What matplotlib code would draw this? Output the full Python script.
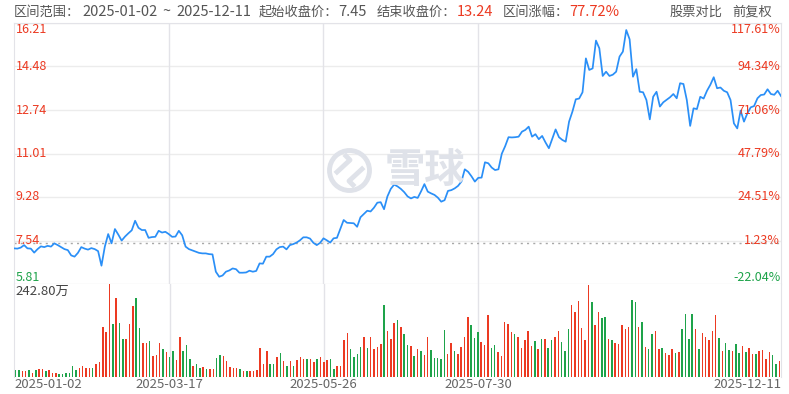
import numpy as np
import matplotlib
matplotlib.use("Agg")
import matplotlib.pyplot as plt
import matplotlib.transforms as mtransforms
from matplotlib.patches import Ellipse

plt.rcParams['font.family'] = ['Noto Sans CJK SC', 'DejaVu Sans']

# ---- data ----
price = [7.23, 7.22, 7.26, 7.36, 7.23, 7.22, 7.06, 7.20, 7.31, 7.28,
         7.33, 7.30, 7.43, 7.36, 7.28, 7.20, 7.16, 6.95, 6.90, 7.05,
         7.28, 7.22, 7.18, 7.24, 7.20, 7.12, 6.54, 7.30, 7.80, 7.43,
         8.00, 7.78, 7.54, 7.70, 7.83, 7.95, 8.33, 8.05, 7.96, 7.96,
         7.65, 7.68, 7.69, 7.93, 7.86, 7.89, 7.80, 7.69, 7.70, 7.93,
         7.75, 7.30, 7.20, 7.15, 7.10, 7.05, 7.03, 7.03, 7.00, 6.99,
         6.30, 6.10, 6.15, 6.30, 6.35, 6.43, 6.40, 6.26, 6.26, 6.27,
         6.34, 6.30, 6.33, 6.63, 6.62, 6.90, 6.90, 7.00, 7.19, 7.28,
         7.30, 7.19, 7.36, 7.40, 7.46, 7.55, 7.67, 7.67, 7.62, 7.45,
         7.36, 7.45, 7.63, 7.55, 7.46, 7.63, 7.65, 8.00, 8.36, 8.25,
         8.24, 8.23, 8.09, 8.47, 8.60, 8.73, 8.70, 8.85, 9.05, 9.07,
         8.79, 9.30, 9.60, 9.77, 9.70, 9.60, 9.47, 9.30, 9.22, 9.28,
         9.24, 9.50, 9.79, 9.49, 9.42, 9.36, 9.25, 9.09, 9.15, 9.52,
         9.55, 9.62, 9.72, 9.89, 10.38, 10.28, 10.10, 9.89, 10.04, 10.05,
         10.66, 10.62, 10.45, 10.35, 10.38, 11.00, 11.30, 11.66, 11.65, 11.66,
         11.68, 11.88, 11.95, 12.08, 11.68, 11.78, 11.58, 11.71, 11.45, 11.22,
         11.60, 11.97, 11.66, 11.55, 11.48, 12.28, 12.68, 13.17, 13.20, 13.45,
         14.80, 14.34, 14.40, 15.51, 15.20, 14.10, 14.27, 14.10, 14.15, 14.27,
         14.87, 15.07, 15.93, 15.56, 14.07, 14.37, 13.47, 13.45, 13.14, 12.37,
         13.27, 13.47, 12.88, 13.05, 13.15, 13.25, 13.38, 13.21, 13.81, 13.78,
         13.14, 12.11, 12.81, 12.78, 13.27, 13.20, 13.51, 13.75, 14.05, 13.61,
         13.64, 13.51, 13.45, 13.14, 12.21, 12.01, 12.72, 12.28, 12.61, 12.85,
         12.90, 13.21, 13.34, 13.36, 13.57, 13.38, 13.35, 13.51, 13.30]

# volume in 万 shares, and bar direction (r = up, g = down)
volume = [19.4, 19.4, 15.0, 15.8, 17.6, 11.4, 17.6, 22.0, 22.0, 15.0,
          17.6, 11.4, 11.4, 8.8, 8.8, 9.7, 11.4, 28.2, 17.6, 24.6,
          28.2, 24.6, 24.6, 24.6, 33.4, 38.7, 130.2, 117.0, 242.8, 138.1,
          206.7, 140.8, 98.5, 98.5, 139.0, 184.7, 206.7, 127.6, 89.7, 88.0,
          94.1, 54.5, 57.2, 88.0, 72.1, 64.2, 52.8, 67.7, 44.0, 103.8,
          68.6, 82.7, 45.7, 29.9, 35.2, 24.6, 26.4, 22.0, 21.1, 22.0,
          48.4, 57.2, 54.5, 40.5, 26.4, 24.6, 24.6, 22.0, 15.0, 15.0,
          15.0, 15.0, 19.4, 74.8, 35.2, 67.7, 35.2, 35.2, 52.8, 61.6,
          42.2, 28.2, 42.2, 28.2, 44.0, 52.8, 45.7, 45.7, 45.7, 39.6,
          45.7, 51.0, 39.6, 44.0, 45.7, 22.0, 28.2, 28.2, 96.8, 116.1,
          72.1, 51.0, 59.8, 77.4, 103.8, 74.8, 103.8, 72.1, 79.2, 86.2,
          189.1, 121.4, 98.5, 140.8, 149.6, 130.0,
          112.6, 83.6, 80.9, 54.5, 72.1, 67.7, 57.2, 103.8, 70.4, 48.4,
          48.4, 45.7, 123.2, 59.8, 89.7, 67.7, 59.8, 77.4, 103.8, 155.7,
          136.4, 101.2, 117.9, 91.5, 83.6, 161.0, 74.8, 83.6, 66.0, 54.5,
          144.3, 139.0, 117.9, 112.6, 103.8, 75.7, 96.8, 120.5, 80.9, 94.1,
          73.0, 99.4, 99.4, 74.8, 96.8, 103.8, 120.5, 91.5, 67.7, 124.9,
          189.1, 169.8, 199.7, 127.6, 96.8, 239.3, 196.2, 136.4, 170.7, 154.0,
          156.6, 98.5, 96.8, 88.0, 86.2, 136.4, 124.9, 130.2, 202.3, 195.3,
          130.2, 144.3, 77.4, 72.1, 112.6, 118.8, 73.0, 76.5, 63.3, 56.3,
          72.1, 63.3, 66.0, 124.9, 165.4, 99.4, 165.4, 124.9, 72.1, 116.1,
          103.8, 96.8, 118.8, 161.0, 101.2, 68.6, 88.0, 70.4, 68.6, 86.2,
          63.3, 80.9, 65.1, 74.8, 59.8, 59.8, 67.7, 70.4, 47.5, 66.0,
          56.3, 35.2, 41.3]
direction = ("ggrrgrgrrg" "rrrggggggr" "rrrgrrrrrg" "rggrrrggrr"
             "grrrgrggrr" "gggrggrgrr" "ggrrrrrgrg" "rrrrrrggrg"
             "rgrgrrrgrr" "grrrggrrrr" "ggggrgrrrr" "grrrg" "r"
             "ggrgrgrrgg" "gggrrgrrrr" "gggrrrggrr" "rrrgrrrrrg"
             "rgrggrrggg" "rrrrrrgrrg" "grgrrrrrgg" "rgrggrrgrr"
             "rgrggggrgr" "rrrrgrggrg" "grgrrgrrrr" "ggr")

dates = ["2025-01-02", "2025-03-17", "2025-05-26", "2025-07-30", "2025-12-11"]
date_idx = [0, 46, 92, 138, 228]

price_ticks = [16.21, 14.48, 12.74, 11.01, 9.28, 7.54, 5.81]
pct_labels = ["117.61%", "94.34%", "71.06%", "47.79%", "24.51%", "1.23%", "-22.04%"]
base_price = 7.45
vol_max = 242.80

RED = '#ec3a22'
GREEN = '#1ea34a'
BLUE = '#2a8ff7'
GRID = '#ececec'
GRAY = '#555555'

W, H = 789, 394
fig = plt.figure(figsize=(W / 100, H / 100), dpi=100)

def fx(px):
    return px / W

def fy(py):
    return 1 - py / H

left, right = 14, 781
ax = fig.add_axes([fx(left), fy(284), fx(right - left), fy(23) - fy(284)])
axv = fig.add_axes([fx(left), fy(377), fx(right - left), fy(284) - fy(377)])

n = len(price)
x = np.arange(n)

# ---- price panel ----
for t in price_ticks:
    ax.axhline(t, color=GRID, lw=1, zorder=0)
for i in date_idx[1:-1]:
    ax.axvline(i, color='#e3e3e8', lw=1, zorder=0)
ax.axhline(base_price, color='#a8a8a8', lw=1, ls=(0, (1.5, 3)), zorder=1)
ax.plot(x, price, color=BLUE, lw=1.25, zorder=3)
ax.set_xlim(0, n - 1)
ax.set_ylim(price_ticks[-1], price_ticks[0])
ax.set_xticks([])
ax.set_yticks([])
for s in ['left', 'right', 'top']:
    ax.spines[s].set_color('#e3e3e8')
ax.spines['bottom'].set_visible(False)

trans = mtransforms.blended_transform_factory(ax.transAxes, ax.transData)
for k, (t, pl) in enumerate(zip(price_ticks, pct_labels)):
    c = GREEN if t < base_price else RED
    va = 'top' if k == 0 else ('bottom' if k == len(price_ticks) - 1 else 'center')
    ax.text(0.002, t, f"{t:.2f}", transform=trans, ha='left', va=va,
            color=c, fontsize=9, zorder=4)
    ax.text(0.999, t, pl, transform=trans, ha='right', va=va,
            color=c, fontsize=9, zorder=4)

# watermark
wm = '#dfe2e9'
fig.patches.append(Ellipse((fx(349.5), fy(170.5)), fx(40), 40 / H, fill=False,
                           ec=wm, lw=3.5, transform=fig.transFigure, zorder=0))
fig.lines.append(plt.Line2D([fx(337), fx(350), fx(346)], [fy(172), fy(160), fy(156)],
                            color=wm, lw=3.5, transform=fig.transFigure))
fig.lines.append(plt.Line2D([fx(362), fx(349), fx(353)], [fy(169), fy(181), fy(185)],
                            color=wm, lw=3.5, transform=fig.transFigure))
fig.text(fx(425), fy(170), "雪球", color=wm, fontsize=29, ha='center', va='center',
         fontweight='bold', zorder=0)

# ---- volume panel ----
colors = [RED if d == 'r' else GREEN for d in direction]
axv.bar(x, volume, width=0.45, color=colors, zorder=2)
for i in date_idx[1:-1]:
    axv.axvline(i, color='#e3e3e8', lw=1, zorder=0)
axv.set_xlim(-0.5, n - 0.5)
axv.set_ylim(0, vol_max)
axv.set_xticks([])
axv.set_yticks([])
for s in ['top', 'bottom']:
    axv.spines[s].set_visible(False)
for s in ['left', 'right']:
    axv.spines[s].set_color('#e3e3e8')
axv.text(0.002, 0.99, f"{vol_max:.2f}万", transform=axv.transAxes, ha='left', va='top',
         color='#444444', fontsize=9.5)

tv = mtransforms.blended_transform_factory(axv.transData, fig.transFigure)
for k, (i, d) in enumerate(zip(date_idx, dates)):
    ha = 'left' if k == 0 else ('right' if k == len(dates) - 1 else 'center')
    xi = -0.5 if k == 0 else (n - 0.5 if k == len(dates) - 1 else i)
    axv.text(xi, fy(384), d, transform=tv, ha=ha, va='center', color='#666666', fontsize=9.5)

# ---- header ----
hy = fy(12)
fs = 9.5
fn = 10.5
fig.text(fx(14), hy, "区间范围：", color=GRAY, fontsize=fs, va='center')
fig.text(fx(82), hy, dates[0], color=GRAY, fontsize=fn, va='center')
fig.text(fx(162), hy, "~", color=GRAY, fontsize=fn, va='center')
fig.text(fx(176), hy, dates[-1], color=GRAY, fontsize=fn, va='center')
fig.text(fx(259), hy, "起始收盘价：", color=GRAY, fontsize=fs, va='center')
fig.text(fx(338), hy, "7.45", color=GRAY, fontsize=fn, va='center')
fig.text(fx(377), hy, "结束收盘价：", color=GRAY, fontsize=fs, va='center')
fig.text(fx(457), hy, "13.24", color=RED, fontsize=fn, va='center')
fig.text(fx(503), hy, "区间涨幅：", color=GRAY, fontsize=fs, va='center')
fig.text(fx(569), hy, "77.72%", color=RED, fontsize=fn, va='center')
fig.text(fx(670), hy, "股票对比", color=GRAY, fontsize=fs, va='center')
fig.text(fx(732), hy, "前复权", color=GRAY, fontsize=fs, va='center')

fig.savefig("out.png", dpi=100)
